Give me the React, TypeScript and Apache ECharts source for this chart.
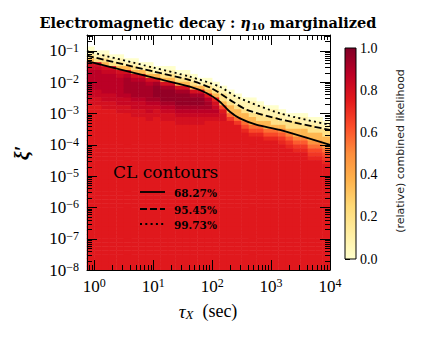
import React, { useEffect, useRef } from 'react';
import * as echarts from 'echarts';

// ---- axis ranges ----
const TAU_MIN = 0.75;
const TAU_MAX = 1e4;
const XI_MIN = 1e-8;
const XI_MAX = 0.3162278;
const N_COLS = 33; // log10(tau) cells of 0.125 decade from -0.125 to 4
const N_ROWS = 60; // log10(xi') cells of 0.125 decade from -8 to -0.5

// relative likelihood, one run-length-encoded string per tau column (top row first)
// level code a..z = 0.00..1.00 in steps of 0.04, '.' = no data (masked)
const likelihoodColumns = [
  '3. a c f j u v 5w 2v 2u 42t',
  '4. a c f u v 5w 2v 2u 42t',
  '4. a c f j u v 5w 2v 2u 41t',
  '5. a c f u v 5w 2v 2u 41t',
  '5. a c f j u v 5w 2v 2u 40t',
  '6. a c j u w 4x w 2v 2u 40t',
  '6. a c f j u w 4x w 2v 2u 39t',
  '7. a c j u w 4x w 2v 2u 39t',
  '7. a c f j u w 4x w 2v 2u 38t',
  '8. a c j u x 3y x w v 2u 39t',
  '8. a c f j u x 3y x w v 2u 38t',
  '8. a c f j u x 3y x w v 2u 38t',
  '9. a c f j u x 3y x w v 2u 37t',
  '9. a c f j u x 3y x w v 2u 37t',
  '10. a c f j u x 2y x w v 2u 37t',
  '11. a c j u x 2y x w v 2u 37t',
  '11. a c f j t w 2x w v u 38t',
  '12. a c f j s u v w v u 38t',
  '13. a c 2f j q t 2u 38t',
  '14. a 2c f 2j o r 38t',
  '15. a 2c f 2j o r 37t',
  '16. a 2c f 2j o q s 35t',
  '16. a 3c f 2j o q s 34t',
  '17. a 2c 2f j o q s 34t',
  '18. a 2c f 2j o q s 33t',
  '18. a 2c 2f j o q s 33t',
  '19. a 2c f j n p r s 32t',
  '20. a c 2f j n p r s 31t',
  '20. a c 2f 2j n p r s 30t',
  '20. a 2c f 2j n p r s 30t',
  '21. a c 2f 2j m o q r s 28t',
  '21. a 2c f 2j m o q r s 28t',
  '22. a c 2f 2j m o q r s 27t',
];
const LEVEL_CODES = 'abcdefghijklmnopqrstuvwxyz';

// CL contour lines (tau [s], xi')
const contour68Tau = [0.75, 10, 41.7, 81.3, 135, 200, 295, 575, 1413, 10000];
const contour68Xi = [0.046, 0.0138, 7.08e-3, 4.37e-3, 2.34e-3, 1.12e-3, 6.92e-4, 4.27e-4, 2.95e-4, 9.8e-5];
const contour95Tau = [0.75, 10, 41.7, 97.7, 200, 389, 1413, 10000];
const contour95Xi = [0.0693, 0.0217, 0.01148, 6.31e-3, 2.69e-3, 1.29e-3, 6.46e-4, 2.95e-4];
const contour997Tau = [0.75, 10, 41.7, 135, 257, 1413, 10000];
const contour997Xi = [0.0959, 0.0288, 0.0148, 7.08e-3, 3.39e-3, 1.0e-3, 4.27e-4];

const clLabels = ['68.27%', '95.45%', '99.73%'];
const colorbarTicks = [0, 0.2, 0.4, 0.6, 0.8, 1.0];
const YLORRD = ['#ffffcc', '#ffeda0', '#fed976', '#feb24c', '#fd8d3c', '#fc4e2a', '#e31a1c', '#bd0026', '#800026'];

function decodeColumn(rle: string): string {
  let out = '';
  for (const tok of rle.trim().split(/\s+/)) {
    const m = tok.match(/^(\d*)(.)$/);
    if (!m) continue;
    const n = m[1] ? parseInt(m[1], 10) : 1;
    out += m[2].repeat(n);
  }
  return out;
}

function powLabel(v: number): string {
  const l = Math.log10(v);
  const e = Math.round(l);
  if (Math.abs(l - e) > 1e-6) return '';
  const s = e < 0 ? '\u2212' + -e : String(e);
  return `{b|10}{s|${s}}`;
}

const labelRich = {
  b: { fontFamily: 'Liberation Serif', fontSize: 17, lineHeight: 18, color: '#000' },
  s: { fontFamily: 'Liberation Serif', fontSize: 12, lineHeight: 12, verticalAlign: 'top', color: '#000' },
};

export default function App() {
  const ref = useRef<HTMLDivElement>(null);
  useEffect(() => {
    if (!ref.current) return;
    const chart = echarts.init(ref.current, null, { renderer: 'svg' });

    const heatData: number[][] = [];
    likelihoodColumns.forEach((rle, i) => {
      const col = decodeColumn(rle);
      for (let p = 0; p < N_ROWS; p++) {
        const ch = col[p];
        if (!ch || ch === '.') continue;
        heatData.push([i, N_ROWS - 1 - p, LEVEL_CODES.indexOf(ch) / 25]);
      }
    });

    const xTickData: number[][] = [];
    for (let k = -1; k <= 4; k++) {
      for (let m = 1; m <= 9; m++) {
        const v = m * Math.pow(10, k);
        if (v >= TAU_MIN * 0.999 && v <= TAU_MAX * 1.001) xTickData.push([v, 1e-4, m === 1 ? 1 : 0]);
      }
    }
    const yTickData: number[][] = [];
    for (let k = -8; k <= -1; k++) {
      for (let m = 1; m <= 9; m++) {
        const v = m * Math.pow(10, k);
        if (v >= XI_MIN * 0.999 && v <= XI_MAX) yTickData.push([1, v, m === 1 ? 1 : 0]);
      }
    }
    const tickStyle = { stroke: '#000', lineWidth: 1 };

    const contourSeries = (tau: number[], xi: number[], type: any) => ({
      type: 'line',
      xAxisIndex: 0,
      yAxisIndex: 0,
      data: tau.map((t, i) => [t, xi[i]]),
      showSymbol: false,
      smooth: 0.25,
      silent: true,
      z: 5,
      lineStyle: { color: '#000', width: 1.8, type, cap: 'butt' },
    });

    const GL = 87, GT = 35, GW = 243, GH = 235;
    const CBX = 345, CBY = 48, CBW = 11, CBH = 211;

    const legendY = [192, 209, 224];
    const legendDash: any[] = [null, [7, 3], [2, 3.3]];

    const option: any = {
      animation: false,
      backgroundColor: '#fff',
      grid: [
        { left: GL, top: GT, width: GW, height: GH },
        { left: GL, top: GT, width: GW, height: GH },
        { left: CBX, top: CBY, width: CBW, height: CBH },
      ],
      xAxis: [
        {
          type: 'log', gridIndex: 0, min: TAU_MIN, max: TAU_MAX, position: 'bottom', z: 10,
          axisLine: { show: true, lineStyle: { color: '#000', width: 1 } },
          axisTick: { show: false }, splitLine: { show: false },
          axisLabel: { margin: 7, formatter: powLabel, rich: labelRich },
        },
        {
          type: 'log', gridIndex: 0, min: TAU_MIN, max: TAU_MAX, position: 'top', z: 10,
          axisLine: { show: true, lineStyle: { color: '#000', width: 1 } },
          axisTick: { show: false }, splitLine: { show: false }, axisLabel: { show: false },
        },
        {
          type: 'category', gridIndex: 1, show: false, boundaryGap: true,
          data: Array.from({ length: N_COLS }, (_, i) => String(i)),
        },
        { type: 'value', gridIndex: 2, show: false, min: 0, max: 1 },
      ],
      yAxis: [
        {
          type: 'log', gridIndex: 0, min: XI_MIN, max: XI_MAX, position: 'left', z: 10,
          axisLine: { show: true, lineStyle: { color: '#000', width: 1 } },
          axisTick: { show: false }, splitLine: { show: false },
          axisLabel: { margin: 8, formatter: powLabel, rich: labelRich },
        },
        {
          type: 'log', gridIndex: 0, min: XI_MIN, max: XI_MAX, position: 'right', z: 10,
          axisLine: { show: true, lineStyle: { color: '#000', width: 1 } },
          axisTick: { show: false }, splitLine: { show: false }, axisLabel: { show: false },
        },
        {
          type: 'category', gridIndex: 1, show: false, boundaryGap: true,
          data: Array.from({ length: N_ROWS }, (_, i) => String(i)),
        },
        {
          type: 'value', gridIndex: 2, min: 0, max: 1, interval: 0.2, position: 'right',
          axisLine: { show: false },
          axisTick: { show: true, inside: false, length: 5, lineStyle: { color: '#000', width: 1 } },
          splitLine: { show: false },
          axisLabel: {
            margin: 4, color: '#000', fontFamily: 'Liberation Serif', fontSize: 14,
            formatter: (v: number) => (colorbarTicks.some((t) => Math.abs(t - v) < 1e-6) ? v.toFixed(1) : ''),
          },
        },
      ],
      visualMap: {
        type: 'continuous', show: false, min: 0, max: 1, dimension: 2, seriesIndex: 0,
        inRange: { color: YLORRD },
      },
      series: [
        {
          type: 'heatmap', xAxisIndex: 2, yAxisIndex: 2, data: heatData, z: 1,
          progressive: 0, silent: true, itemStyle: { borderWidth: 0 },
        },
        contourSeries(contour68Tau, contour68Xi, 'solid'),
        contourSeries(contour95Tau, contour95Xi, [7, 3]),
        contourSeries(contour997Tau, contour997Xi, [2, 3.3]),
        {
          type: 'custom', xAxisIndex: 0, yAxisIndex: 0, data: xTickData, z: 10, silent: true,
          encode: { x: 0, y: 1 },
          renderItem: (params: any, api: any) => {
            const v = api.value(0);
            const major = api.value(2);
            const cs = params.coordSys;
            const px = Math.round(api.coord([v, 1e-4])[0]) + 0.5;
            const len = major ? 10 : 5;
            return {
              type: 'group',
              children: [
                { type: 'line', shape: { x1: px, y1: cs.y + cs.height, x2: px, y2: cs.y + cs.height - len }, style: tickStyle },
                { type: 'line', shape: { x1: px, y1: cs.y, x2: px, y2: cs.y + len }, style: tickStyle },
              ],
            };
          },
        },
        {
          type: 'custom', xAxisIndex: 0, yAxisIndex: 0, data: yTickData, z: 10, silent: true,
          encode: { x: 0, y: 1 },
          renderItem: (params: any, api: any) => {
            const v = api.value(1);
            const major = api.value(2);
            const cs = params.coordSys;
            const py = Math.round(api.coord([1, v])[1]) + 0.5;
            const len = major ? 10 : 5;
            return {
              type: 'group',
              children: [
                { type: 'line', shape: { x1: cs.x, y1: py, x2: cs.x + len, y2: py }, style: tickStyle },
                { type: 'line', shape: { x1: cs.x + cs.width, y1: py, x2: cs.x + cs.width - len, y2: py }, style: tickStyle },
              ],
            };
          },
        },
      ],
      graphic: [
        {
          type: 'text', x: 208, y: 22, z: 100, silent: true,
          style: {
            text: '{b|Electromagnetic decay : }{e|\u03b7}{s|10}{b| marginalized}',
            align: 'center', verticalAlign: 'middle', textAlign: 'center', textVerticalAlign: 'middle',
            rich: {
              b: { fontFamily: 'DejaVu Serif', fontWeight: 'bold', fontSize: 14.5, lineHeight: 18, fill: '#000' },
              e: { fontFamily: 'DejaVu Serif', fontStyle: 'italic', fontWeight: 'bold', fontSize: 14.5, lineHeight: 18, fill: '#000' },
              s: { fontFamily: 'DejaVu Serif', fontWeight: 'bold', fontSize: 10, lineHeight: 10, verticalAlign: 'bottom', fill: '#000' },
            },
          },
        },
        {
          type: 'text', x: 208, y: 311, z: 100, silent: true,
          style: {
            text: '{i|\u03c4}{s|X}{r|  (sec)}',
            align: 'center', verticalAlign: 'middle', textAlign: 'center', textVerticalAlign: 'middle',
            rich: {
              i: { fontFamily: 'Liberation Serif', fontStyle: 'italic', fontSize: 19, lineHeight: 20, fill: '#000' },
              s: { fontFamily: 'Liberation Serif', fontStyle: 'italic', fontSize: 13, lineHeight: 13, verticalAlign: 'bottom', fill: '#000' },
              r: { fontFamily: 'Liberation Serif', fontSize: 18, lineHeight: 20, fill: '#000' },
            },
          },
        },
        {
          type: 'text', x: 22, y: 153, rotation: Math.PI / 2, z: 100, silent: true,
          style: {
            text: '\u03be\u2032', fill: '#000',
            font: 'italic bold 20px "Liberation Serif"',
            align: 'center', verticalAlign: 'middle', textAlign: 'center', textVerticalAlign: 'middle',
          },
        },
        {
          type: 'rect', z: 100, silent: true,
          shape: { x: CBX, y: CBY, width: CBW, height: CBH },
          style: {
            fill: {
              type: 'linear', x: 0, y: 1, x2: 0, y2: 0,
              colorStops: YLORRD.map((c, i) => ({ offset: i / (YLORRD.length - 1), color: c })),
            },
            stroke: '#000', lineWidth: 1,
          },
        },
        {
          type: 'text', x: 400, y: 151, rotation: Math.PI / 2, z: 100, silent: true,
          style: {
            text: '(relative) combined likelihood', fill: '#222',
            font: '11px "DejaVu Sans"',
            align: 'center', verticalAlign: 'middle', textAlign: 'center', textVerticalAlign: 'middle',
          },
        },
        {
          type: 'text', x: 113, y: 172, z: 100, silent: true,
          style: {
            text: 'CL contours', fill: '#000', font: '17px "DejaVu Serif"',
            align: 'left', verticalAlign: 'middle', textAlign: 'left', textVerticalAlign: 'middle',
          },
        },
        ...clLabels.flatMap((lab, i) => [
          {
            type: 'line', z: 100, silent: true,
            shape: { x1: 140, y1: legendY[i], x2: 165, y2: legendY[i] },
            style: { stroke: '#000', lineWidth: 1.8, lineDash: legendDash[i] || undefined },
          },
          {
            type: 'text', x: 174, y: legendY[i] + 0.5, z: 100, silent: true,
            style: {
              text: lab, fill: '#000', font: 'bold 10.5px "DejaVu Serif"',
              align: 'left', verticalAlign: 'middle', textAlign: 'left', textVerticalAlign: 'middle',
            },
          },
        ]),
      ],
    };

    chart.setOption(option);
    return () => chart.dispose();
  }, []);

  return (
    <div
      ref={ref}
      style={{ position: 'fixed', left: 0, top: 0, width: 421, height: 337, background: '#fff' }}
    />
  );
}
